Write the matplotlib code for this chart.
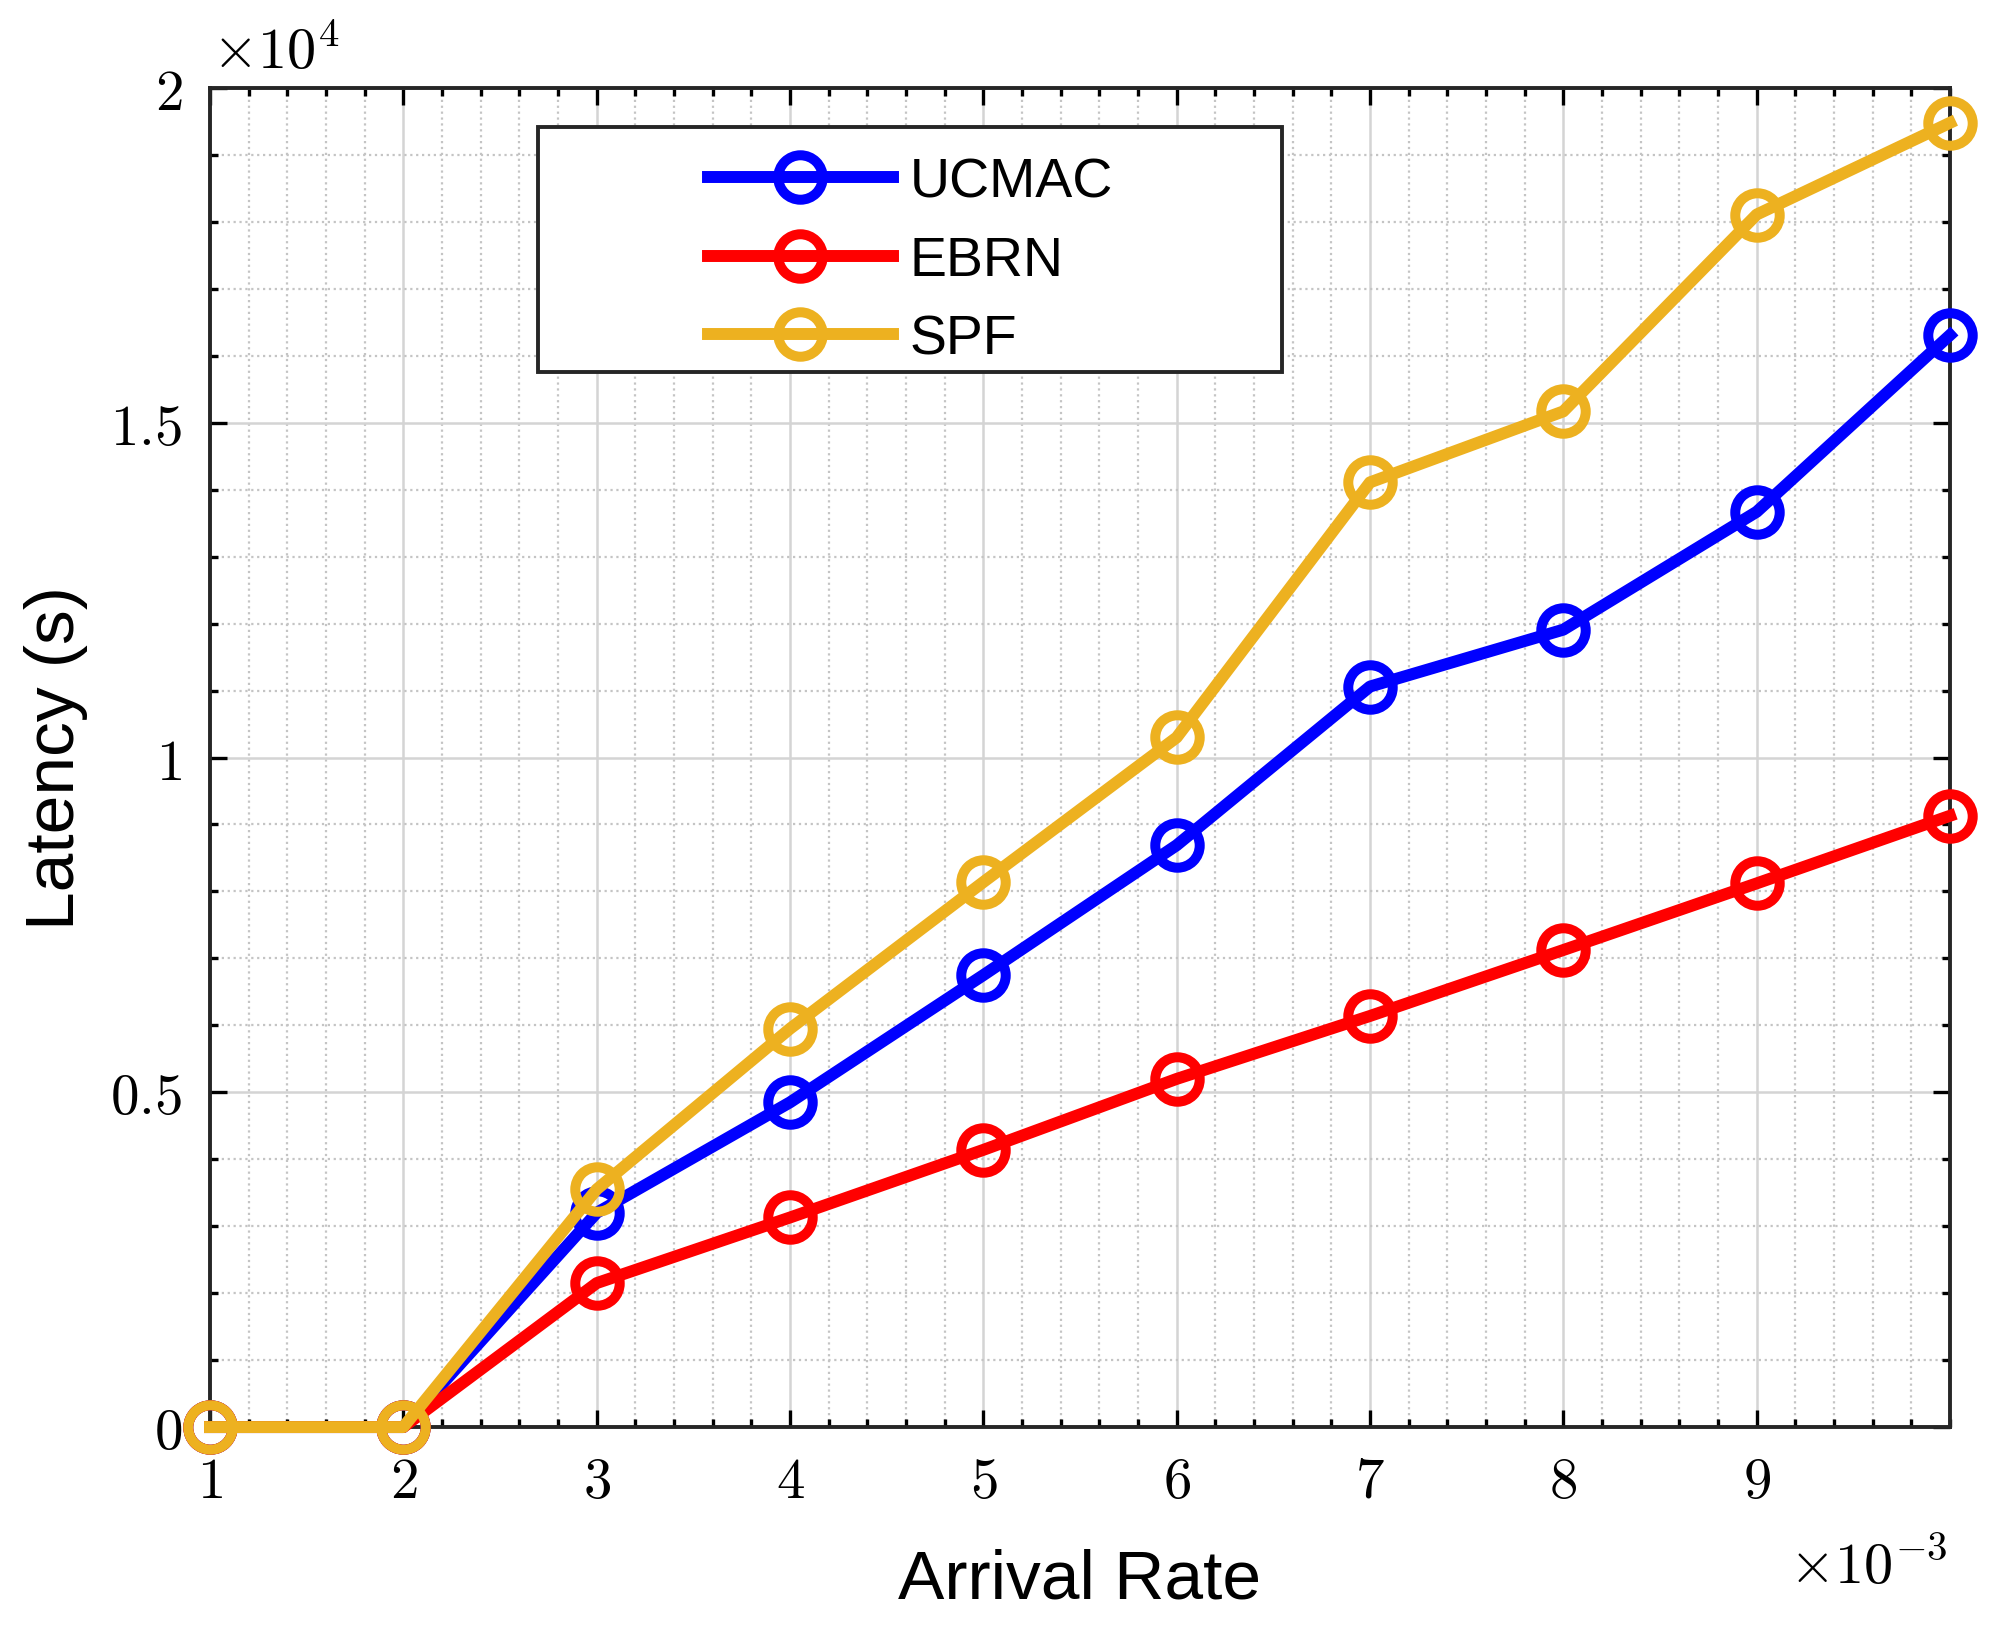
import numpy as np
import matplotlib
matplotlib.use('Agg')
import matplotlib.pyplot as plt
from matplotlib.patches import Rectangle
from matplotlib.ticker import FixedLocator, MultipleLocator, FuncFormatter

# Dados
arrival_rate = np.array([1, 2, 3, 4, 5, 6, 7, 8, 9, 10]) * 1e-3
latency_ucmac = np.array([0, 0, 3200, 4850, 6750, 8690, 11060, 11910, 13670, 16310])
latency_ebrn = np.array([0, 0, 2150, 3130, 4140, 5200, 6140, 7125, 8120, 9130])
latency_spf = np.array([0, 0, 3550, 5950, 8140, 10300, 14110, 15170, 18110, 19480])

series_names = ['UCMAC', 'EBRN', 'SPF']
series_colors = ['#0000FF', '#FF0000', '#EDB120']
x_ticks = [1, 2, 3, 4, 5, 6, 7, 8, 9]
y_ticks = [0, 0.5, 1, 1.5, 2]

plt.rcParams['font.family'] = ['Liberation Sans', 'DejaVu Sans']
plt.rcParams['mathtext.fontset'] = 'cm'

fig = plt.figure(figsize=(10, 8.165), dpi=200)
ax = fig.add_axes([0.105, 0.1255, 0.87, 0.82])

# escala: x em 1e-3, y em 1e4
xs = arrival_rate / 1e-3
for nome, cor, ys in zip(series_names, series_colors, [latency_ucmac, latency_ebrn, latency_spf]):
    ax.plot(xs, ys / 1e4, color=cor, lw=4.3, marker='o', markersize=16,
            markerfacecolor='none', markeredgewidth=3.6, label=nome,
            zorder=3, clip_on=False)

ax.set_xlim(1, 10)
ax.set_ylim(0, 2)
ax.xaxis.set_major_locator(FixedLocator(x_ticks))
ax.yaxis.set_major_locator(FixedLocator(y_ticks))
ax.xaxis.set_minor_locator(MultipleLocator(0.2))
ax.yaxis.set_minor_locator(MultipleLocator(0.1))
ax.xaxis.set_major_formatter(FuncFormatter(lambda v, p: f'${v:g}$'))
ax.yaxis.set_major_formatter(FuncFormatter(lambda v, p: f'${v:g}$'))

ax.tick_params(which='both', direction='in', top=True, right=True, width=1.2)
ax.tick_params(which='major', length=6, labelsize=20.5, pad=10)
ax.tick_params(which='minor', length=3)
ax.tick_params(axis='y', which='major', pad=10)

ax.grid(which='major', color='#d4d4d4', lw=0.9, ls='-')
ax.grid(which='minor', color='#c4c4c4', lw=0.8, ls=':')
ax.set_axisbelow(True)
for s in ax.spines.values():
    s.set_linewidth(1.4)
    s.set_color('#262626')

ax.set_xlabel('Arrival Rate', fontsize=25, labelpad=14)
ax.set_ylabel('Latency (s)', fontsize=25, labelpad=8)

# multiplicadores no estilo MATLAB
fig.text(0.974, 0.04, r'$\times10^{-3}$', fontsize=21, ha='right', va='center')
fig.text(0.106, 0.967, r'$\times10^{4}$', fontsize=21, ha='left', va='center')

# caixa da legenda (largura fixa como no MATLAB)
caixa = Rectangle((0.1886, 0.788), 0.4274, 0.183, transform=ax.transAxes,
                  facecolor='white', edgecolor='#262626', lw=1.4, zorder=5)
ax.add_patch(caixa)
leg = ax.legend(loc='upper left', bbox_to_anchor=(0.286, 0.949), fontsize=20,
                frameon=False, handlelength=3.33, borderpad=0, labelspacing=0.48,
                borderaxespad=0, handletextpad=0.3)
leg.set_zorder(6)

fig.savefig('out.png', dpi=200)
